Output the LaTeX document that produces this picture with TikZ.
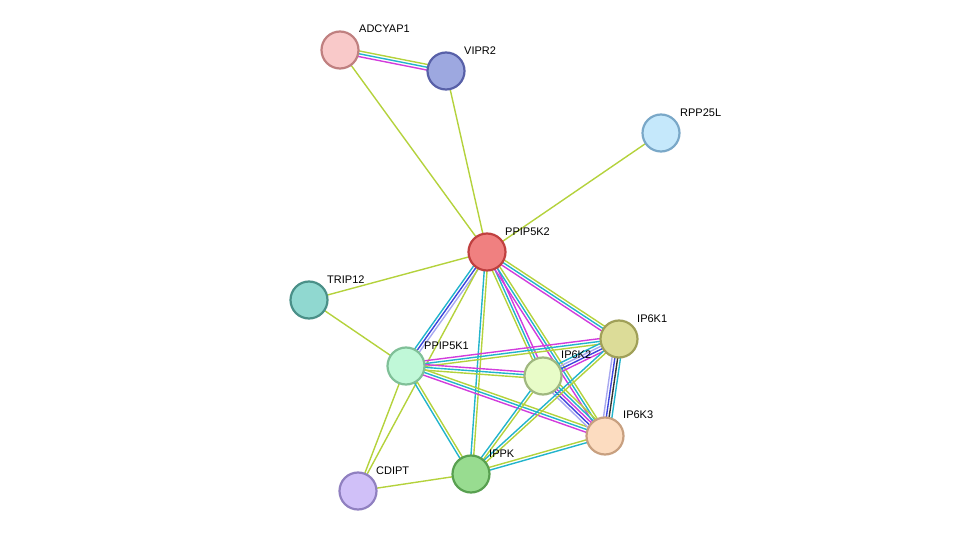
\documentclass[tikz,border=0pt]{standalone}
\usepackage{fontspec}
\setmainfont{Liberation Sans}
\usetikzlibrary{calc}
\pgfdeclarelayer{bg}\pgfsetlayers{bg,main}
\definecolor{yg}{HTML}{B4D23C}
\definecolor{cy}{HTML}{22B4CC}
\definecolor{mg}{HTML}{D23CDC}
\definecolor{bl}{HTML}{3C46DC}
\definecolor{lv}{HTML}{A8A8F0}
\definecolor{bk}{HTML}{333333}
\tikzset{
  prot/.style={circle,minimum size=37pt,inner sep=0pt,line width=2.2pt},
  lab/.style={anchor=south west,font=\fontsize{11}{12}\selectfont,inner sep=0pt},
}
\newcommand{\edg}[3]{%
  \foreach \c [count=\i] in {#3}{\xdef\nn{\i}}%
  \foreach \c [count=\i] in {#3}{%
    \pgfmathsetmacro{\off}{(\i-(\nn+1)/2)*2.8}%
    \draw[\c,line width=1.4pt] ($(#1.center)!\off pt!90:(#2.center)$) -- ($(#2.center)!\off pt!-90:(#1.center)$);}}
\begin{document}
\begin{tikzpicture}[x=1pt,y=-1pt]
\useasboundingbox (0,0) rectangle (975,537);
\node[prot,fill={rgb,255:red,249;green,201;blue,201},draw={rgb,255:red,192;green,128;blue,128}] (adc) at (340,50) {};
\node[prot,fill={rgb,255:red,157;green,168;blue,224},draw={rgb,255:red,88;green,96;blue,168}] (vip) at (446,71) {};
\node[prot,fill={rgb,255:red,197;green,232;blue,251},draw={rgb,255:red,122;green,168;blue,200}] (rpp) at (661,133) {};
\node[prot,fill={rgb,255:red,240;green,128;blue,128},draw={rgb,255:red,192;green,64;blue,64}] (pk2) at (487,252) {};
\node[prot,fill={rgb,255:red,144;green,216;blue,208},draw={rgb,255:red,74;green,144;blue,136}] (tri) at (309,300) {};
\node[prot,fill={rgb,255:red,220;green,220;blue,152},draw={rgb,255:red,160;green,160;blue,88}] (k1) at (619,339) {};
\node[prot,fill={rgb,255:red,192;green,248;blue,216},draw={rgb,255:red,128;green,192;blue,152}] (pk1) at (406,366) {};
\node[prot,fill={rgb,255:red,232;green,252;blue,200},draw={rgb,255:red,160;green,184;blue,128}] (k2) at (543,376) {};
\node[prot,fill={rgb,255:red,252;green,220;blue,192},draw={rgb,255:red,200;green,160;blue,128}] (k3) at (605,436) {};
\node[prot,fill={rgb,255:red,152;green,220;blue,144},draw={rgb,255:red,88;green,160;blue,80}] (ipk) at (471,474) {};
\node[prot,fill={rgb,255:red,208;green,192;blue,248},draw={rgb,255:red,144;green,128;blue,192}] (cdi) at (358,491) {};
\node[lab] at (359,33) {ADCYAP1};
\node[lab] at (464,55) {VIPR2};
\node[lab] at (680,117) {RPP25L};
\node[lab] at (505,236) {PPIP5K2};
\node[lab] at (327,284) {TRIP12};
\node[lab] at (637,323) {IP6K1};
\node[lab] at (424,350) {PPIP5K1};
\node[lab] at (561,359) {IP6K2};
\node[lab] at (623,419) {IP6K3};
\node[lab] at (489,458) {IPPK};
\node[lab] at (376,475) {CDIPT};
\begin{pgfonlayer}{bg}
\edg{adc}{vip}{mg,cy,yg}
\edg{adc}{pk2}{yg}
\edg{vip}{pk2}{yg}
\edg{rpp}{pk2}{yg}
\edg{tri}{pk2}{yg}
\edg{tri}{pk1}{yg}
\edg{pk2}{pk1}{cy,bl,lv}
\edg{pk2}{ipk}{cy,yg}
\edg{pk2}{k2}{yg,cy,mg}
\edg{pk2}{k3}{mg,cy,yg}
\edg{pk2}{k1}{mg,cy,yg}
\edg{pk2}{cdi}{yg}
\edg{pk1}{k1}{yg,cy,mg}
\edg{pk1}{k2}{yg,cy,mg}
\edg{pk1}{k3}{mg,cy,yg}
\edg{pk1}{ipk}{cy,yg}
\edg{pk1}{cdi}{yg}
\edg{ipk}{cdi}{yg}
\edg{k2}{k1}{mg,bl,lv,cy}
\edg{k2}{k3}{lv,bl,mg,cy,yg}
\edg{k1}{k3}{lv,bl,bk,cy}
\edg{k2}{ipk}{cy,yg}
\edg{k1}{ipk}{cy,yg}
\edg{k3}{ipk}{yg,cy}
\end{pgfonlayer}
\end{tikzpicture}
\end{document}
